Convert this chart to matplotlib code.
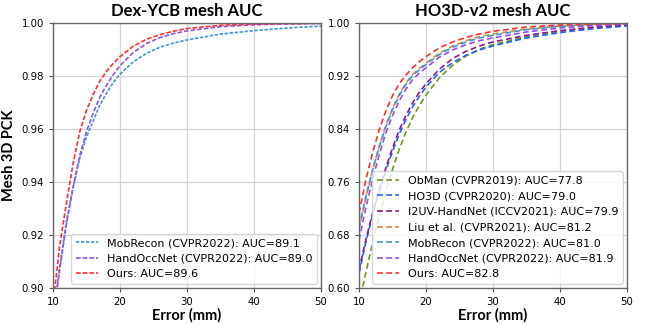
"""
plot.py
Mesh 3D PCK curves: Dex-YCB and HO3D-v2
"""

import matplotlib
matplotlib.use("Agg")
import matplotlib.pyplot as plt

# ──────────────────────────────────────────
# Data
# ──────────────────────────────────────────
ERR_MM = [10, 11, 12, 13, 14, 15, 16, 17, 18, 19, 20,
          22, 24, 26, 28, 30, 35, 40, 45, 50]

# Dex-YCB
DEX_LABELS = ["MobRecon (CVPR2022): AUC=89.1",
              "HandOccNet (CVPR2022): AUC=89.0",
              "Ours: AUC=89.6"]
DEX_MOBRECON = [0.889, 0.908, 0.925, 0.938, 0.949, 0.957, 0.963, 0.969, 0.9735, 0.9775, 0.9806,
                0.9853, 0.9885, 0.9908, 0.9923, 0.9935, 0.9957, 0.9970, 0.9980, 0.9987]
DEX_HANDOCC = [0.888, 0.907, 0.924, 0.938, 0.950, 0.959, 0.966, 0.972, 0.9765, 0.9805, 0.9838,
               0.9888, 0.9922, 0.9944, 0.9959, 0.9969, 0.9985, 0.9992, 0.9995, 0.9997]
DEX_OURS = [0.894, 0.916, 0.932, 0.947, 0.959, 0.967, 0.973, 0.978, 0.9817, 0.9847, 0.9872,
            0.9912, 0.9938, 0.9955, 0.9968, 0.9978, 0.9990, 0.9995, 0.9997, 0.9998]

# HO3D-v2
HO3D_LABELS = ["ObMan (CVPR2019): AUC=77.8",
               "HO3D (CVPR2020): AUC=79.0",
               "I2UV-HandNet (ICCV2021): AUC=79.9",
               "Liu et al. (CVPR2021): AUC=81.2",
               "MobRecon (CVPR2022): AUC=81.0",
               "HandOccNet (CVPR2022): AUC=81.9",
               "Ours: AUC=82.8"]
HO3D_OBMAN = [0.575, 0.622, 0.667, 0.708, 0.745, 0.779, 0.809, 0.835, 0.857, 0.875, 0.891,
              0.917, 0.936, 0.950, 0.960, 0.967, 0.979, 0.987, 0.993, 0.997]
HO3D_HO3D = [0.622, 0.668, 0.709, 0.745, 0.777, 0.806, 0.832, 0.854, 0.873, 0.889, 0.903,
             0.925, 0.940, 0.951, 0.959, 0.965, 0.977, 0.985, 0.991, 0.995]
HO3D_I2UV = [0.627, 0.672, 0.712, 0.748, 0.781, 0.811, 0.838, 0.860, 0.879, 0.895, 0.908,
             0.930, 0.946, 0.957, 0.965, 0.971, 0.981, 0.988, 0.993, 0.997]
HO3D_LIU = [0.688, 0.735, 0.777, 0.813, 0.845, 0.871, 0.892, 0.909, 0.922, 0.931, 0.939,
            0.954, 0.965, 0.973, 0.979, 0.983, 0.9905, 0.995, 0.9975, 0.999]
HO3D_MOBRECON = [0.692, 0.737, 0.777, 0.812, 0.843, 0.869, 0.890, 0.907, 0.920, 0.929, 0.937,
                 0.952, 0.963, 0.971, 0.977, 0.981, 0.9895, 0.9945, 0.997, 0.9985]
HO3D_HANDOCC = [0.672, 0.720, 0.763, 0.800, 0.834, 0.860, 0.882, 0.900, 0.914, 0.924, 0.932,
                0.948, 0.959, 0.967, 0.973, 0.977, 0.986, 0.992, 0.9955, 0.998]
HO3D_OURS = [0.713, 0.762, 0.803, 0.838, 0.867, 0.890, 0.908, 0.921, 0.932, 0.941, 0.949,
             0.962, 0.971, 0.978, 0.983, 0.987, 0.9935, 0.9966, 0.998, 0.999]

DEX_YTICKS = [0.90, 0.92, 0.94, 0.96, 0.98, 1.00]
HO3D_YTICKS = [0.60, 0.68, 0.76, 0.84, 0.92, 1.00]
XTICKS = [10, 20, 30, 40, 50]

# ──────────────────────────────────────────
# Styles
# ──────────────────────────────────────────
C_OBMAN = "#6b9a22"
C_HO3D = "#2262f0"
C_I2UV = "#8a1a8a"
C_LIU = "#cd8a3c"
C_MOB = "#3d96d4"
C_HOCC = "#9a4fdf"
C_OURS = "#ff3030"

BOLD_FONT = ["Lato", "DejaVu Sans"]


def style_axis(ax, yticks, title):
    ax.set_xlim(10, 50)
    ax.set_ylim(yticks[0], yticks[-1])
    ax.set_xticks(XTICKS)
    ax.set_yticks(yticks)
    ax.set_yticklabels([f"{t:.2f}" for t in yticks])
    ax.tick_params(labelsize=7.3, length=3, width=0.8, color="#555555")
    ax.grid(True, color="#d4d4d4", linewidth=0.9)
    ax.set_axisbelow(True)
    for sp in ax.spines.values():
        sp.set_color("#666666")
        sp.set_linewidth(1.0)
    ax.set_title(title, fontsize=12, fontweight="bold", family=BOLD_FONT, pad=5)
    ax.set_xlabel("Error (mm)", fontsize=10.5, fontweight="bold", family=BOLD_FONT, labelpad=1)


fig = plt.figure(figsize=(6.45, 3.24), dpi=100)
ax1 = fig.add_axes([0.0822, 0.111, 0.4155, 0.819])
ax2 = fig.add_axes([0.5566, 0.111, 0.4155, 0.819])

# Dex-YCB
ax1.plot(ERR_MM, DEX_MOBRECON, color=C_MOB, lw=1.2, dashes=(2.0, 1.0), label=DEX_LABELS[0])
ax1.plot(ERR_MM, DEX_HANDOCC, color=C_HOCC, lw=1.2, dashes=(2.8, 1.2), label=DEX_LABELS[1])
ax1.plot(ERR_MM, DEX_OURS, color=C_OURS, lw=1.2, dashes=(2.8, 1.2), label=DEX_LABELS[2])
style_axis(ax1, DEX_YTICKS, "Dex-YCB mesh AUC")
ax1.set_ylabel("Mesh 3D PCK", fontsize=10.5, fontweight="bold", family=BOLD_FONT, labelpad=4)
ax1.legend(loc="lower right", fontsize=8, borderaxespad=0.4, handlelength=2.0)

# HO3D-v2
series = [HO3D_OBMAN, HO3D_HO3D, HO3D_I2UV, HO3D_LIU, HO3D_MOBRECON, HO3D_HANDOCC, HO3D_OURS]
colors = [C_OBMAN, C_HO3D, C_I2UV, C_LIU, C_MOB, C_HOCC, C_OURS]
for ys, c, lab in zip(series, colors, HO3D_LABELS):
    ax2.plot(ERR_MM, ys, color=c, lw=1.2, dashes=(3.5, 2.0), label=lab)
style_axis(ax2, HO3D_YTICKS, "HO3D-v2 mesh AUC")
ax2.legend(loc="lower right", fontsize=8, borderaxespad=0.4, handlelength=2.0)

fig.savefig("out.png", dpi=100)
